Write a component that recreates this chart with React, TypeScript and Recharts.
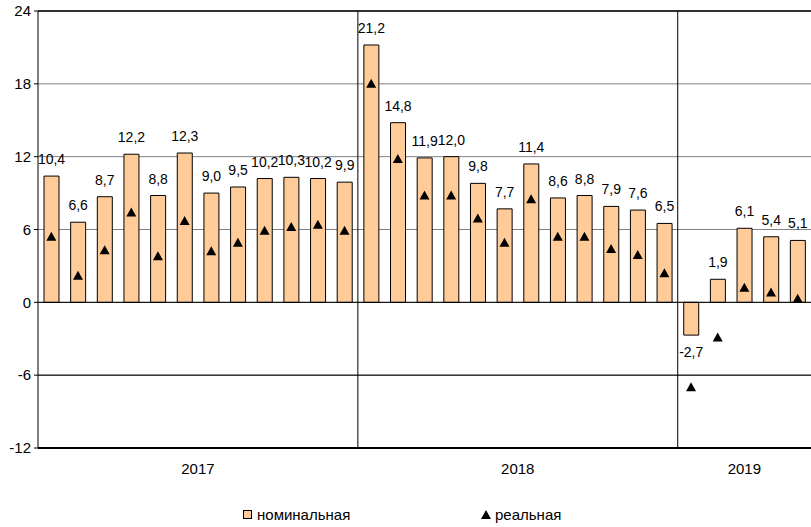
import {
  ComposedChart,
  Bar,
  Line,
  XAxis,
  YAxis,
  CartesianGrid,
  ReferenceLine,
  LabelList,
} from "recharts";

if (typeof document !== "undefined") {
  document.body.style.margin = "0";
}

const years = ["2017", "2018", "2019"];
const monthsPerYear = [12, 12, 5];

// номинальная (labelled in the picture)
const nominal = [
  10.4, 6.6, 8.7, 12.2, 8.8, 12.3, 9.0, 9.5, 10.2, 10.3, 10.2, 9.9,
  21.2, 14.8, 11.9, 12.0, 9.8, 7.7, 11.4, 8.6, 8.8, 7.9, 7.6, 6.5,
  -2.7, 1.9, 6.1, 5.4, 5.1,
];

// реальная
const real = [
  5.4, 2.2, 4.3, 7.4, 3.8, 6.7, 4.2, 4.9, 5.9, 6.2, 6.4, 5.9,
  18.0, 11.8, 8.8, 8.8, 6.9, 4.9, 8.5, 5.4, 5.4, 4.4, 3.9, 2.4,
  -7.0, -2.9, 1.2, 0.8, 0.3,
];

const yTicks = [-12, -6, 0, 6, 12, 18, 24];

const FONT = "'Liberation Sans', Arial, sans-serif";
const BAR_FILL = "#FFCC99";

// month slot i sits in the middle of [i, i + 1] on a numeric axis
const data = nominal.map((v, i) => ({ pos: i + 0.5, nominal: v, real: real[i] }));

// year boundaries and year-label centres from the month counts
const boundaries: number[] = [];
const yearCenters: number[] = [];
let acc = 0;
monthsPerYear.forEach((n, i) => {
  yearCenters.push(acc + n / 2);
  acc += n;
  if (i < monthsPerYear.length - 1) boundaries.push(acc);
});
const totalMonths = acc;

const fmt = (v: number) => v.toFixed(1).replace(".", ",");

const ValueLabel = (props: any) => {
  const { x, y, width, height, value } = props;
  const top = Math.min(y, y + height);
  const bottom = Math.max(y, y + height);
  const cx = x + width / 2;
  const ty = value < 0 ? bottom + 22 : top - 12;
  return (
    <text x={cx} y={ty} textAnchor="middle" fontSize={14} fontFamily={FONT} fill="#000">
      {fmt(value)}
    </text>
  );
};

const Triangle = (props: any) => {
  const { cx, cy, index } = props;
  if (cx == null || cy == null) return <g key={index} />;
  return (
    <polygon
      key={index}
      points={`${cx},${cy - 5} ${cx + 5},${cy + 4} ${cx - 5},${cy + 4}`}
      fill="#000"
    />
  );
};

export default function App() {
  return (
    <div style={{ position: "relative", width: 811, height: 527, background: "#fff" }}>
      <ComposedChart
        width={811}
        height={527}
        data={data}
        margin={{ top: 11, right: 0, left: 0, bottom: 49 }}
      >
        <CartesianGrid vertical={false} stroke="#808080" strokeWidth={1} />
        <XAxis
          dataKey="pos"
          type="number"
          domain={[0, totalMonths]}
          ticks={yearCenters}
          tickFormatter={(v: number) => years[yearCenters.indexOf(v)] ?? ""}
          allowDataOverflow
          height={30}
          axisLine={{ stroke: "#000", strokeWidth: 2 }}
          tickLine={false}
          tickMargin={9}
          tick={{ fontSize: 15, fill: "#000", fontFamily: FONT }}
        />
        <YAxis
          domain={[-12, 24]}
          ticks={yTicks}
          width={38}
          allowDataOverflow
          axisLine={{ stroke: "#000" }}
          tickLine={{ stroke: "#000" }}
          tickSize={4}
          tickMargin={3}
          tick={{ fontSize: 15, fill: "#000", fontFamily: FONT }}
        />
        <ReferenceLine y={24} stroke="#000" strokeWidth={1.5} />
        <ReferenceLine y={0} stroke="#000" />
        <ReferenceLine y={-6} stroke="#000" />
        {boundaries.map((b) => (
          <ReferenceLine key={b} x={b} stroke="#000" />
        ))}
        <Bar
          dataKey="nominal"
          fill={BAR_FILL}
          stroke="#000"
          strokeWidth={1}
          barSize={15}
          isAnimationActive={false}
        >
          <LabelList dataKey="nominal" content={<ValueLabel />} />
        </Bar>
        <Line
          dataKey="real"
          stroke="none"
          dot={Triangle}
          activeDot={false}
          isAnimationActive={false}
        />
      </ComposedChart>
      <div
        style={{
          position: "absolute",
          top: 506,
          left: 0,
          width: 811,
          fontFamily: FONT,
          fontSize: 15,
          color: "#000",
        }}
      >
        <span style={{ position: "absolute", left: 243, top: 4, width: 7, height: 7, background: BAR_FILL, border: "1px solid #000" }} />
        <span style={{ position: "absolute", left: 257, top: 0 }}>номинальная</span>
        <svg style={{ position: "absolute", left: 481, top: 4 }} width={10} height={10}>
          <polygon points="5,0 10,9 0,9" fill="#000" />
        </svg>
        <span style={{ position: "absolute", left: 495, top: 0 }}>реальная</span>
      </div>
    </div>
  );
}
